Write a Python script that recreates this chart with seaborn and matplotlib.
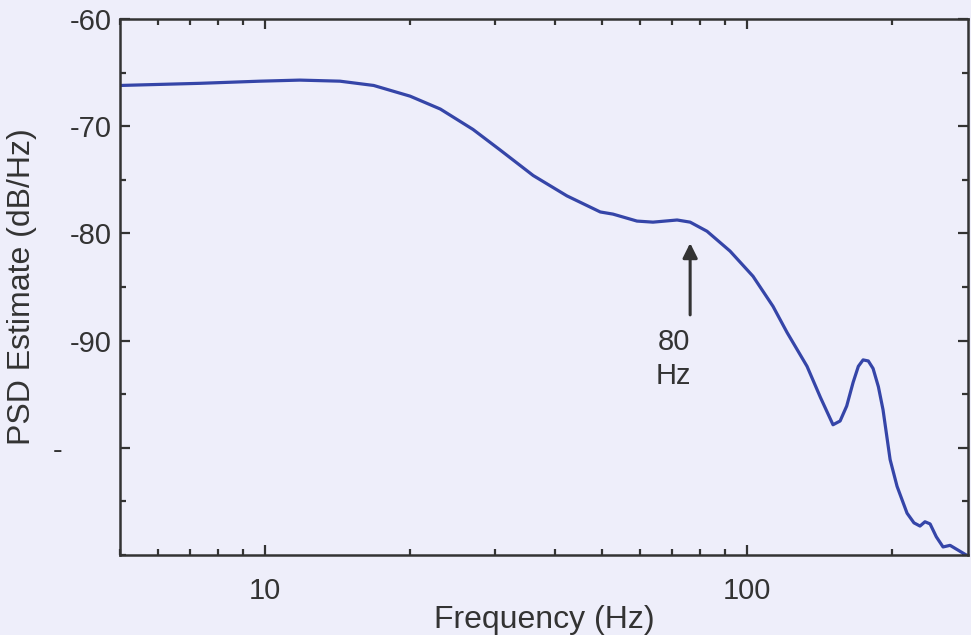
import numpy as np
import pandas as pd
import matplotlib
matplotlib.use("Agg")
import matplotlib.pyplot as plt
import matplotlib.ticker as mticker
import seaborn as sns

# Data
freq_hz = [5.00, 7.33, 9.76, 11.8, 14.3, 16.8, 20.0, 23.1, 27.0, 30.7, 36.0, 42.3,
           49.6, 52.7, 59.1, 63.8, 71.6, 76.2, 82.6, 92.2, 102.9, 113.2, 121.1,
           133.2, 142.0, 150.8, 156.0, 161.0, 166.0, 170.2, 174.1, 178.5, 182.6,
           187.3, 191.5, 198.1, 204.8, 214.8, 222.0, 228.5, 234.0, 239.8, 247.0,
           255.1, 263.8, 287.4]
psd_db = [-66.2, -66.0, -65.8, -65.7, -65.8, -66.2, -67.2, -68.4, -70.3, -72.2, -74.6, -76.5,
          -78.0, -78.2, -78.85, -78.95, -78.75, -78.95, -79.8, -81.65, -84.0, -86.8, -89.25,
          -92.4, -95.3, -97.85, -97.5, -96.1, -93.9, -92.4, -91.8, -91.9, -92.6,
          -94.3, -96.45, -101.1, -103.6, -106.1, -107.0, -107.3, -106.9, -107.1, -108.3,
          -109.25, -109.1, -110.1]
y_ticks = [-60, -70, -80, -90, -100]
y_tick_labels = ["-60", "-70", "-80", "-90", "-\u2007\u2007\u2007"]
x_ticks = [10, 100]
x_tick_labels = ["10", "100"]
annot_text = "80\nHz"

df = pd.DataFrame({"Frequency (Hz)": freq_hz, "PSD Estimate (dB/Hz)": psd_db})

sns.set_style("ticks")
plt.rcParams["font.family"] = ["Liberation Sans", "DejaVu Sans"]

bg = "#eeeefa"
fig = plt.figure(figsize=(9.71, 6.35), dpi=100, facecolor=bg)
ax = fig.add_axes([120 / 971, 1 - 555 / 635, (968 - 120) / 971, (555 - 19) / 635])
ax.set_facecolor(bg)

sns.lineplot(data=df, x="Frequency (Hz)", y="PSD Estimate (dB/Hz)", ax=ax,
             color="#3545a8", linewidth=2.3, sort=False)
ax.lines[0].set_solid_joinstyle("round")

ax.set_xscale("log")
ax.set_xlim(5, 287.4)
ax.set_ylim(-110, -60)

ax.xaxis.set_major_locator(mticker.FixedLocator(x_ticks))
ax.xaxis.set_major_formatter(mticker.FixedFormatter(x_tick_labels))
ax.xaxis.set_minor_locator(mticker.LogLocator(base=10, subs=np.arange(2, 10)))
ax.xaxis.set_minor_formatter(mticker.NullFormatter())
ax.yaxis.set_major_locator(mticker.FixedLocator(y_ticks))
ax.yaxis.set_major_formatter(mticker.FixedFormatter(y_tick_labels))
ax.yaxis.set_minor_locator(mticker.MultipleLocator(5))

axis_col = "#333333"
for s in ax.spines.values():
    s.set_visible(True)
    s.set_color(axis_col)
    s.set_linewidth(1.8)

ax.tick_params(which="both", direction="in", top=True, right=True, colors=axis_col,
               labelcolor="#333333", width=1.6)
ax.tick_params(which="major", length=7, labelsize=21)
ax.tick_params(axis="x", which="major", pad=16)
ax.tick_params(axis="y", which="major", pad=6)
ax.tick_params(which="minor", length=4)

ax.set_xlabel("Frequency (Hz)", fontsize=23, color="#333333", labelpad=0)
ax.set_ylabel("PSD Estimate (dB/Hz)", fontsize=23, color="#333333", labelpad=12)

ax.annotate("", xy=(76.2, -80.9), xytext=(76.2, -87.6),
            arrowprops=dict(arrowstyle="-|>", color="#333333", lw=2.2,
                            mutation_scale=22, shrinkA=0, shrinkB=0))
ax.text(70.5, -91.7, annot_text, ha="center", va="center", fontsize=21,
        color="#333333", linespacing=1.3)

fig.savefig("out.png", dpi=100, facecolor=bg)
